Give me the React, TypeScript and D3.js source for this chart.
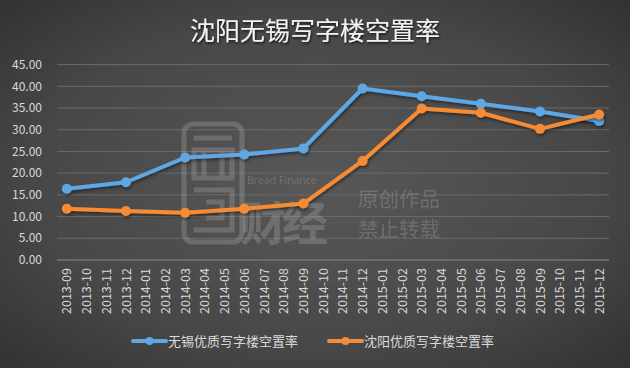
import React from "react";
import * as d3 from "d3";

const categories: string[] = [
  "2013-09","2013-10","2013-11","2013-12",
  "2014-01","2014-02","2014-03","2014-04","2014-05","2014-06","2014-07","2014-08","2014-09","2014-10","2014-11","2014-12",
  "2015-01","2015-02","2015-03","2015-04","2015-05","2015-06","2015-07","2015-08","2015-09","2015-10","2015-11","2015-12",
];
const dataMonths: string[] = ["2013-09","2013-12","2014-03","2014-06","2014-09","2014-12","2015-03","2015-06","2015-09","2015-12"];
const wuxiValues: number[] = [16.4, 17.9, 23.6, 24.3, 25.7, 39.5, 37.7, 36.0, 34.2, 32.0];
const shenyangValues: number[] = [11.8, 11.3, 10.9, 11.8, 13.0, 22.8, 34.9, 33.9, 30.2, 33.5];
const yTicks: number[] = [0, 5, 10, 15, 20, 25, 30, 35, 40, 45];
const seriesNames: string[] = ["无锡优质写字楼空置率", "沈阳优质写字楼空置率"];
const title = "沈阳无锡写字楼空置率";

const W = 630, H = 368;
const BLUE = "#5ea7e2";
const ORANGE = "#f58b36";
const FONT = "'Noto Sans CJK SC', 'Noto Sans', sans-serif";

export default function App() {
  const x = d3.scaleBand<string>().domain(categories).range([57, 609]);
  const y = d3.scaleLinear().domain([0, 45]).range([260, 64.6]);
  const cx = (m: string) => (x(m) as number) + x.bandwidth() / 2;
  const line = d3.line<[string, number]>().x(d => cx(d[0])).y(d => y(d[1]));
  const series = [
    { name: seriesNames[0], color: BLUE, pts: dataMonths.map((m, i) => [m, wuxiValues[i]] as [string, number]) },
    { name: seriesNames[1], color: ORANGE, pts: dataMonths.map((m, i) => [m, shenyangValues[i]] as [string, number]) },
  ];
  const legendX = [133, 329];
  return (
    <svg width={W} height={H} style={{ position: "absolute", left: 0, top: 0, display: "block" }} fontFamily={FONT}>
      <defs>
        <radialGradient id="bg" cx="50%" cy="50%" r="75%">
          <stop offset="0%" stopColor="#585858" />
          <stop offset="60%" stopColor="#474747" />
          <stop offset="100%" stopColor="#2e2e2e" />
        </radialGradient>
        <filter id="sh" x="-10%" y="-10%" width="120%" height="130%">
          <feDropShadow dx="1" dy="2" stdDeviation="1.5" floodColor="#000" floodOpacity="0.45" />
        </filter>
        <filter id="tsh" x="-10%" y="-20%" width="120%" height="150%">
          <feDropShadow dx="1" dy="1.5" stdDeviation="1" floodColor="#000" floodOpacity="0.7" />
        </filter>
      </defs>
      <rect x={0} y={0} width={W} height={H} fill="url(#bg)" />
      <text x={315} y={40} textAnchor="middle" fontSize={25} fill="#f2f2f2" filter="url(#tsh)">{title}</text>

      {/* gridlines */}
      {yTicks.map(t => (
        <line key={t} x1={57} x2={609} y1={y(t)} y2={y(t)} stroke="#6b6b6b" strokeWidth={1} />
      ))}
      {yTicks.map(t => (
        <text key={"l" + t} x={42} y={y(t)} dy="0.35em" textAnchor="end" fontSize={12} fill="#d9d9d9">{t.toFixed(2)}</text>
      ))}
      <line x1={57} x2={609} y1={y(0)} y2={y(0)} stroke="#7a7a7a" strokeWidth={1} />
      {categories.map(c => (
        <text key={c} transform={`translate(${cx(c) + 4.5},268) rotate(-90)`} textAnchor="end" fontSize={12.5} fill="#d9d9d9">{c}</text>
      ))}

      {/* watermark */}
      <g opacity={0.22} fill="none" stroke="#d0d0d0">
        <rect x={184} y={124} width={58} height={118} rx={9} strokeWidth={5} />
        <path d="M194 138 H232 M194 150 H232 V178 H194 Z M204 150 V178 M222 150 V178 M194 190 H232 V230 H194 M206 202 H222 V218 H206" strokeWidth={5} />
      </g>
      <g opacity={0.22} fill="#d0d0d0">
        <text x={247} y={184} fontSize={10.5} fontFamily="'Open Sans', sans-serif">Bread Finance</text>
        <text x={240} y={240} fontSize={46} fontWeight="bold" letterSpacing={-4}>财经</text>
        <text x={358} y={207} fontSize={20.5}>原创作品</text>
        <text x={358} y={237} fontSize={20.5}>禁止转载</text>
      </g>

      {/* series */}
      {series.map(s => (
        <g key={s.name} filter="url(#sh)">
          <path d={line(s.pts) || ""} fill="none" stroke={s.color} strokeWidth={4} strokeLinejoin="round" strokeLinecap="round" />
          {s.pts.map(p => (
            <circle key={p[0]} cx={cx(p[0])} cy={y(p[1])} r={5} fill={s.color} />
          ))}
        </g>
      ))}

      {/* legend */}
      {series.map((s, i) => (
        <g key={"lg" + i}>
          <line x1={legendX[i]} x2={legendX[i] + 33} y1={341} y2={341} stroke={s.color} strokeWidth={4} strokeLinecap="round" />
          <circle cx={legendX[i] + 16.5} cy={341} r={4} fill={s.color} />
          <text x={legendX[i] + 35} y={341} dy="0.35em" fontSize={13} fill="#d9d9d9">{s.name}</text>
        </g>
      ))}
    </svg>
  );
}
